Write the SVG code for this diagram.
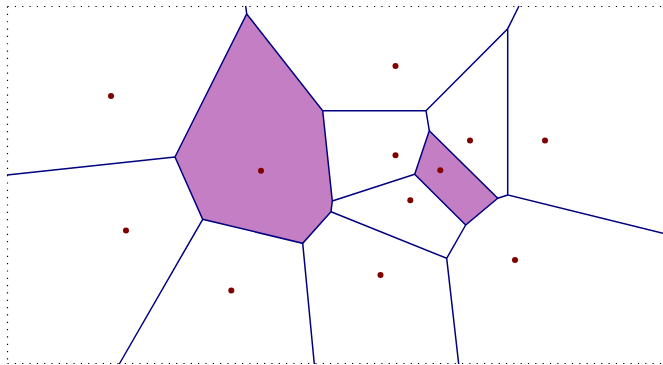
<svg xmlns="http://www.w3.org/2000/svg" width="663" height="365" viewBox="0 0 663 365">
<style>
.frame{fill:none;stroke:#000;stroke-width:1.2;stroke-dasharray:1.2 6.13}
.cell{fill:#c47fc4;stroke:#000080;stroke-width:1.5;stroke-linejoin:miter}
.edge{fill:none;stroke:#000080;stroke-width:1.5}
.site{fill:#800000}
</style>
<rect width="663" height="365" fill="#fff"/>
<path class="frame" d="M7.5,6.5 H670 M7.5,6.5 V363.5 M7.5,363.5 H670"/>
<g id="cell-a"><polygon class="cell" points="246.7,14 322.7,110.7 332.3,201 331,211.7 302.7,243.3 202.7,219.3 175,157"/></g>
<g id="cell-b"><polygon class="cell" points="429.3,130.7 497.7,198.3 465.7,225 414.7,174.3"/></g>
<g id="connectors">
<path class="edge" d="M246.7,14 L245.7,6 M322.7,110.7 L426,110.7 L429.3,130.7 M426,110.7 L507.7,28.7 L519,6 M507.7,28.7 L507.7,195 L663,233.3 M507.7,195 L497.7,198.3 M465.7,225 L446.7,258.3 L458.7,364 M446.7,258.3 L331,211.7 M414.7,174.3 L332.3,201 M302.7,243.3 L314.3,364 M202.7,219.3 L119.3,364 M175,157 L7,175"/>
</g>
<g id="sites">
<circle class="site" cx="111" cy="96" r="3"/>
<circle class="site" cx="395.5" cy="66" r="3"/>
<circle class="site" cx="261" cy="170.7" r="3"/>
<circle class="site" cx="395.5" cy="155.3" r="3"/>
<circle class="site" cx="470" cy="140.5" r="3"/>
<circle class="site" cx="545" cy="140.5" r="3"/>
<circle class="site" cx="440.3" cy="170.3" r="3"/>
<circle class="site" cx="410.3" cy="200.2" r="3"/>
<circle class="site" cx="126" cy="230.5" r="3"/>
<circle class="site" cx="231.3" cy="290.5" r="3"/>
<circle class="site" cx="380.5" cy="275" r="3"/>
<circle class="site" cx="515" cy="260" r="3"/>
</g>
</svg>
